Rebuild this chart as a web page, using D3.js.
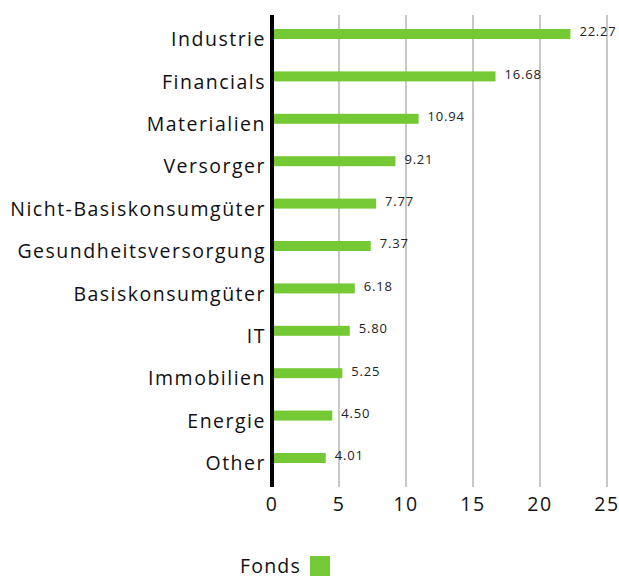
<!DOCTYPE html>
<html>
<head>
<meta charset="utf-8">
<script src="https://cdn.jsdelivr.net/npm/d3@7"></script>
<style>
  body { margin: 0; background: #fff; }
</style>
</head>
<body>
<div id="chart"></div>
<script>
const sectors = ["Industrie", "Financials", "Materialien", "Versorger", "Nicht-Basiskonsumgüter",
  "Gesundheitsversorgung", "Basiskonsumgüter", "IT", "Immobilien", "Energie", "Other"];
const fondsValues = [22.27, 16.68, 10.94, 9.21, 7.77, 7.37, 6.18, 5.80, 5.25, 4.50, 4.01];
const xTicks = [0, 5, 10, 15, 20, 25];
const seriesName = "Fonds";

const width = 619, height = 578;
const green = "#74c935";
const font = "Open Sans, sans-serif";

const svg = d3.select("#chart").append("svg")
  .attr("width", width)
  .attr("height", height)
  .style("font-family", font);

const data = sectors.map((s, i) => ({ sector: s, value: fondsValues[i] }));

const x = d3.scaleLinear().domain([0, 25]).range([272, 607]);
const y = d3.scaleBand().domain(sectors).range([12.8, 479.2]);
const barH = 10;

// gridlines
svg.append("g")
  .selectAll("line")
  .data(xTicks.filter(d => d > 0))
  .join("line")
  .attr("x1", d => x(d)).attr("x2", d => x(d))
  .attr("y1", 15).attr("y2", 487)
  .attr("stroke", "#c8c8c8")
  .attr("stroke-width", 2);

// bars
svg.append("g")
  .selectAll("rect")
  .data(data)
  .join("rect")
  .attr("x", x(0))
  .attr("y", d => y(d.sector) + y.bandwidth() / 2 - barH / 2)
  .attr("width", d => x(d.value) - x(0))
  .attr("height", barH)
  .attr("fill", green);

// value labels
svg.append("g")
  .selectAll("text")
  .data(data)
  .join("text")
  .attr("x", d => x(d.value) + 9)
  .attr("y", d => y(d.sector) + y.bandwidth() / 2 - 1)
  .attr("dominant-baseline", "middle")
  .attr("font-size", 13)
  .attr("letter-spacing", 0.8)
  .attr("fill", "#222")
  .text(d => d.value.toFixed(2));

// category labels
svg.append("g")
  .selectAll("text")
  .data(data)
  .join("text")
  .attr("x", 266)
  .attr("y", d => y(d.sector) + y.bandwidth() / 2 + 7)
  .attr("text-anchor", "end")
  .attr("dominant-baseline", "middle")
  .attr("font-size", 19.5)
  .attr("letter-spacing", 1.5)
  .attr("fill", "#111")
  .text(d => d.sector);

// zero axis
svg.append("line")
  .attr("x1", x(0)).attr("x2", x(0))
  .attr("y1", 15).attr("y2", 487)
  .attr("stroke", "#000")
  .attr("stroke-width", 4);

// x tick labels
svg.append("g")
  .selectAll("text")
  .data(xTicks)
  .join("text")
  .attr("x", d => x(d))
  .attr("y", 506)
  .attr("text-anchor", "middle")
  .attr("dominant-baseline", "middle")
  .attr("font-size", 19.5)
  .attr("letter-spacing", 1.5)
  .attr("fill", "#111")
  .text(d => d);

// legend
const legend = svg.append("g");
legend.append("text")
  .attr("x", 240)
  .attr("y", 568)
  .attr("dominant-baseline", "middle")
  .attr("font-size", 19.5)
  .attr("letter-spacing", 1.2)
  .attr("fill", "#111")
  .text(seriesName);
legend.append("rect")
  .attr("x", 310)
  .attr("y", 556)
  .attr("width", 20)
  .attr("height", 20)
  .attr("fill", green);
</script>
</body>
</html>
